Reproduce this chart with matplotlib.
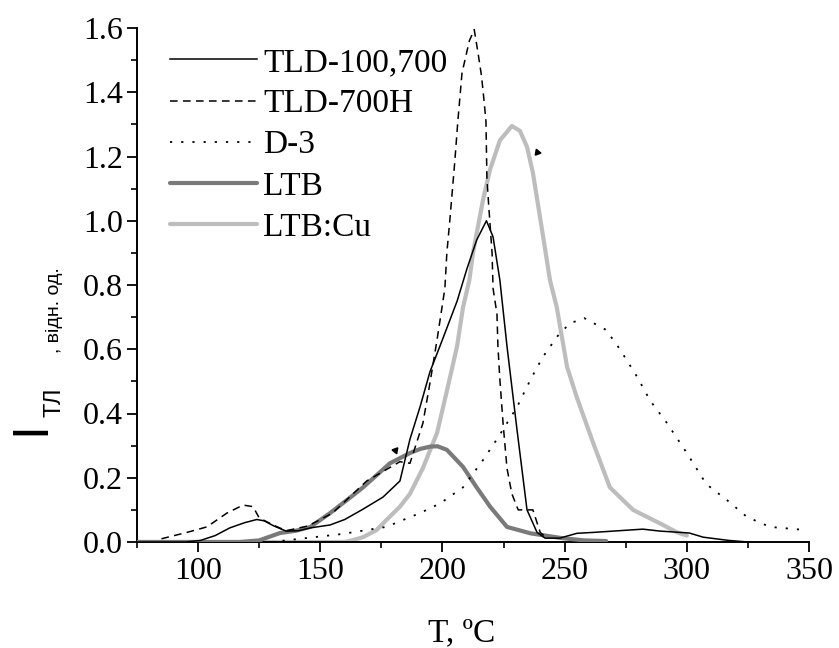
import matplotlib
matplotlib.use("Agg")
import matplotlib.pyplot as plt
from matplotlib.ticker import MultipleLocator, FormatStrFormatter

# ---- data ----
t_tld100 = [75, 95, 101, 107, 113, 119, 124, 127, 131, 136, 141, 146, 154, 160, 167, 175.7,
            182.6, 186.7, 190.8, 194.9, 200, 206, 210, 214, 218, 220.7, 223.5, 226.4, 230.5,
            234.6, 238.7, 242, 248, 255, 262, 270, 282, 289, 301, 306.7, 317, 325]
i_tld100 = [0, 0, 0.005, 0.02, 0.044, 0.06, 0.07, 0.066, 0.05, 0.034, 0.035, 0.044, 0.053, 0.07,
            0.1, 0.14, 0.19, 0.32, 0.42, 0.53, 0.63, 0.75, 0.85, 0.94, 1.0, 0.95, 0.815, 0.61,
            0.35, 0.10, 0.03, 0.012, 0.012, 0.027, 0.03, 0.034, 0.04, 0.034, 0.028, 0.015, 0.005, 0]

t_tld700h = [85, 95.5, 103.6, 111.8, 118.4, 122.5, 125, 130.7, 136, 145, 155, 169, 182.6, 186.7,
             192, 195, 197.8, 201, 201.8, 203, 205, 206.3, 208, 211, 213, 214.6, 216, 217, 217.8,
             218.2, 219, 220.3, 220.7, 222.3, 222.7, 223.5, 224.8, 226.4, 228.4, 231, 237, 240, 243]
i_tld700h = [0.01, 0.03, 0.047, 0.09, 0.115, 0.11, 0.075, 0.053, 0.035, 0.05, 0.09, 0.19, 0.25, 0.245,
             0.37, 0.5, 0.63, 0.79, 0.9, 1.0, 1.18, 1.31, 1.46, 1.56, 1.595, 1.52, 1.45, 1.375, 1.31,
             1.13, 1.04, 0.9, 0.79, 0.71, 0.61, 0.505, 0.37, 0.23, 0.15, 0.1, 0.1, 0.03, 0.01]

t_d3 = [130, 141.7, 159, 177, 190.8, 199, 208.4, 216.6, 222.3, 230.5, 236, 241, 247, 252, 258,
        267, 272.6, 279.6, 285, 291.9, 300, 308, 316.5, 324.6, 334, 349]
i_d3 = [0, 0.01, 0.025, 0.047, 0.09, 0.12, 0.17, 0.255, 0.32, 0.42, 0.505, 0.575, 0.64, 0.68, 0.697,
        0.66, 0.6, 0.515, 0.44, 0.37, 0.277, 0.18, 0.13, 0.078, 0.047, 0.037]

t_ltb = [75, 117, 125, 133.5, 140, 146, 154, 162, 167.5, 178.5, 186.7, 191, 195, 198, 201.8,
         208.4, 214, 219.5, 226.4, 236, 249, 258, 267]
i_ltb = [0, 0, 0.005, 0.028, 0.035, 0.047, 0.09, 0.137, 0.17, 0.245, 0.277, 0.29, 0.297, 0.298,
         0.287, 0.234, 0.17, 0.11, 0.047, 0.027, 0.012, 0.005, 0.003]

t_ltbcu = [75, 160, 163, 167.5, 173, 177, 182.6, 186.7, 192, 197.8, 201.8, 206, 208.4, 211, 212.5,
           216.6, 219.5, 223.5, 228.4, 231.7, 234.6, 237, 241, 244, 246.8, 251, 255, 261.6, 268.5,
           278, 289, 296, 300]
i_ltbcu = [0, 0, 0.005, 0.015, 0.037, 0.068, 0.11, 0.15, 0.23, 0.34, 0.47, 0.61, 0.73, 0.815, 0.9,
           1.065, 1.16, 1.25, 1.295, 1.28, 1.23, 1.15, 0.96, 0.815, 0.73, 0.545, 0.45, 0.31, 0.17,
           0.10, 0.058, 0.03, 0.02]

labels = ["TLD-100,700", "TLD-700H", "D-3", "LTB", "LTB:Cu"]
arrow_t = [180.6, 238.7]
arrow_i = [0.285, 1.215]

x_ticks = [100, 150, 200, 250, 300, 350]
y_ticks = [0.0, 0.2, 0.4, 0.6, 0.8, 1.0, 1.2, 1.4, 1.6]

# ---- figure ----
serif = ["Liberation Serif", "DejaVu Serif"]
sans = ["Liberation Sans", "DejaVu Sans"]
plt.rcParams["font.family"] = serif

fig = plt.figure(figsize=(8.39, 6.48), dpi=100)
ax = fig.add_axes([137/839, 1-542/648, (809-137)/839, (542-28)/648])

ax.plot(t_tld100, i_tld100, color="black", lw=1.1, zorder=5, label=labels[0])
ax.plot(t_tld700h, i_tld700h, color="black", lw=1.1, ls=(0, (5, 3.5)), zorder=5, label=labels[1])
ax.plot(t_d3, i_d3, color="black", lw=1.3, ls=(0, (1.2, 5)), zorder=5, label=labels[2])
ax.plot(t_ltb, i_ltb, color="#7a7a7a", lw=3.0, zorder=3, label=labels[3], solid_capstyle="round")
ax.plot(t_ltbcu, i_ltbcu, color="#bdbdbd", lw=3.0, zorder=2, label=labels[4], solid_capstyle="round")

ax.plot([arrow_t[0]], [arrow_i[0]], marker=(3, 0, 200), color="black", ms=5, ls="none", zorder=6)
ax.plot([arrow_t[1]], [arrow_i[1]], marker=(3, 0, 140), color="black", ms=5, ls="none", zorder=6)

ax.set_xlim(75, 350)
ax.set_ylim(0, 1.6)
ax.set_xticks(x_ticks)
ax.set_yticks(y_ticks)
ax.xaxis.set_minor_locator(MultipleLocator(25))
ax.yaxis.set_minor_locator(MultipleLocator(0.1))
ax.yaxis.set_major_formatter(FormatStrFormatter("%.1f"))

for s in ["top", "right"]:
    ax.spines[s].set_visible(False)
for s in ["left", "bottom"]:
    ax.spines[s].set_linewidth(1.4)
ax.tick_params(which="major", direction="out", length=7, width=1.3, labelsize=23, pad=4)
ax.tick_params(which="minor", direction="out", length=4, width=1.2)
ax.tick_params(axis="y", pad=3)

ax.legend(loc="upper left", bbox_to_anchor=(0.049, 0.962), frameon=False, fontsize=24,
          handlelength=2.6, handletextpad=0.2, labelspacing=0.32, borderaxespad=0, borderpad=0)

# axis labels
fig.text(462/839, 1-633/648, "T, ºC", ha="center", va="center", fontsize=24, family=serif)
fig.text(31/839, 1-428/648, "I", ha="center", va="center", rotation=90, fontsize=36, family=sans)
fig.text(54/839, 1-402/648, "ТЛ", ha="center", va="center", rotation=90, fontsize=17, family=sans)
fig.text(54/839, 1-310/648, ", відн. од.", ha="center", va="center", rotation=90, fontsize=14, family=sans)

fig.savefig("out.png", dpi=100)
